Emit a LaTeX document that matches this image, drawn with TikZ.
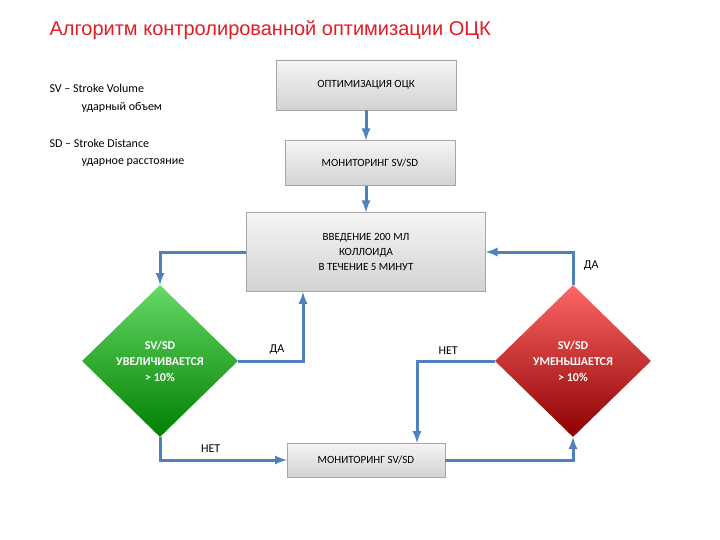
\documentclass[tikz,border=0pt]{standalone}
\usepackage{fontspec}
\setmainfont{Carlito}
\newfontfamily\titlefont{Liberation Sans}
\usetikzlibrary{positioning,shapes.geometric}
\definecolor{flowblue}{HTML}{4F81BD}
\definecolor{titlered}{HTML}{E31B23}
\tikzset{box/.style = {draw=gray!70, top color=gray!8, bottom color=gray!35, align=center, inner sep=0pt, font=\fontsize{11}{15}\selectfont}}
\tikzset{choice/.style = {diamond, draw=none, minimum width=156pt, minimum height=152pt, inner sep=0pt, align=center, text=white, font=\bfseries\fontsize{12}{16}\selectfont}}
\tikzset{flow/.style = {->, flowblue, line width=3pt}}
\tikzset{lab/.style = {font=\fontsize{12}{14}\selectfont}}

\begin{document}
\begin{tikzpicture}[x=1pt, y=-1pt, >=latex]
  \useasboundingbox (0,0) rectangle (720,540);
  \node [anchor=west, text=titlered, font=\titlefont\fontsize{20}{24}\selectfont] (title) at (46,30) {Алгоритм контролированной оптимизации ОЦК};

  \node [anchor=west, lab] (sv) at (46,88) {SV -- Stroke Volume};
  \node [anchor=west, lab] (svru) at (78,107) {ударный объем};
  \node [anchor=west, lab] (sd) at (46,143) {SD -- Stroke Distance};
  \node [anchor=west, lab] (sdru) at (78,163) {ударное расстояние};

  \node [box, minimum width=180pt, minimum height=50pt] (opt) at (366,85) {ОПТИМИЗАЦИЯ ОЦК};
  \node [box, minimum width=170pt, minimum height=45pt] (mon1) at (370,163) {МОНИТОРИНГ SV/SD};
  \node [box, minimum width=239pt, minimum height=79pt] (infuse) at (366,252) {ВВЕДЕНИЕ 200 МЛ\\КОЛЛОИДА\\В ТЕЧЕНИЕ 5 МИНУТ};
  \node [choice, top color=green!75!black!60, bottom color=green!50!black] (up) at (160,361) {SV/SD\\УВЕЛИЧИВАЕТСЯ\\> 10\%};
  \node [choice, top color=red!60!white, bottom color=red!55!black] (down) at (573,361) {SV/SD\\УМЕНЬШАЕТСЯ\\> 10\%};
  \node [box, minimum width=158pt, minimum height=34pt] (mon2) at (366,460) {МОНИТОРИНГ SV/SD};
  \coordinate (yes) at (303,292);
  \coordinate (no) at (417,443);

  \draw [flow] (opt.south) -- (opt.south |- mon1.north);
  \draw [flow] (opt.south |- mon1.south) -- (infuse.north);
  \draw [flow] (infuse.west) -| (up.north);
  \draw [flow] (up.east) -| node [pos=0.3, above=2pt, lab, text=black] {ДА} (yes);
  \draw [flow] (down.north) |- node [pos=0.3, right=6pt, lab, text=black] {ДА} (infuse.east);
  \draw [flow] (down.west) -| node [pos=0.3, above=2pt, lab, text=black] {НЕТ} (no);
  \draw [flow] (up.south) |- node [pos=0.7, above=3pt, lab, text=black] {НЕТ} (mon2.west);
  \draw [flow] (mon2.east) -| (down.south);
\end{tikzpicture}
\end{document}
